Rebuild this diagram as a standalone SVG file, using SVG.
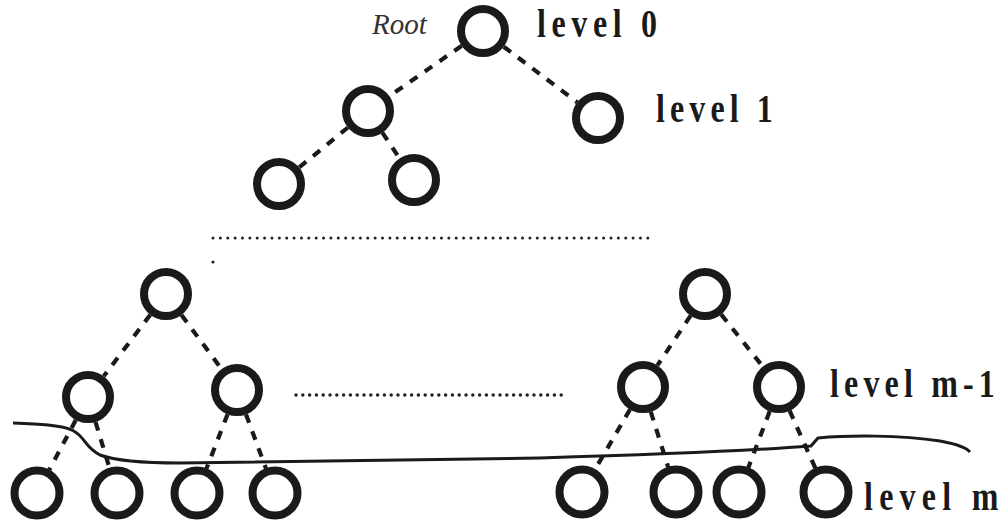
<svg xmlns="http://www.w3.org/2000/svg" width="1000" height="525" viewBox="0 0 1000 525">
  <style>
    .node { fill: none; stroke: #1a1a1a; stroke-width: 8; }
    .edge { stroke: #1a1a1a; stroke-width: 4.2; stroke-dasharray: 9 9; fill: none; }
    .dots { stroke: #222; stroke-linecap: round; fill: none; }
    .lvl { font-family: "Liberation Serif", "Times New Roman", serif; font-weight: bold; font-size: 40px; fill: #1a1a1a; }
    .root { font-family: "Liberation Serif", "Times New Roman", serif; font-style: italic; font-size: 29px; fill: #333; }
  </style>
  <rect width="1000" height="525" fill="#fff"/>

  <!-- tree edges -->
  <g id="connectors">
    <line class="edge" x1="461.7" y1="45.8" x2="389.3" y2="96.2"/>
    <line class="edge" x1="503.7" y1="46.7" x2="577.3" y2="102.3"/>
    <line class="edge" x1="347.9" y1="127.5" x2="299.1" y2="167.5"/>
    <line class="edge" x1="382.4" y1="132.6" x2="399.6" y2="158.4"/>
    <line class="edge" x1="150.3" y1="314.7" x2="103.7" y2="376.3"/>
    <line class="edge" x1="181.5" y1="314.9" x2="221.5" y2="369.1"/>
    <line class="edge" x1="690.6" y1="315.6" x2="657.4" y2="365.4"/>
    <line class="edge" x1="721.2" y1="314.4" x2="762.8" y2="366.6"/>
    <line class="edge" x1="75.8" y1="420" x2="49.2" y2="470"/>
    <line class="edge" x1="95.5" y1="421.9" x2="109.5" y2="468.1"/>
    <line class="edge" x1="227.6" y1="414.2" x2="206.4" y2="468.8"/>
    <line class="edge" x1="246" y1="414.4" x2="266" y2="468.6"/>
    <line class="edge" x1="630" y1="409.5" x2="595" y2="469.5"/>
    <line class="edge" x1="650.8" y1="411.8" x2="668.2" y2="467.2"/>
    <line class="edge" x1="769.7" y1="411.3" x2="748.3" y2="467.7"/>
    <line class="edge" x1="789.6" y1="410.7" x2="815.4" y2="468.3"/>
  </g>

  <!-- elided levels -->
  <line class="dots" x1="213" y1="238" x2="655" y2="238" stroke-width="3" stroke-dasharray="0 7.37"/>
  <circle cx="213" cy="262" r="1.6" fill="#222"/>
  <line class="dots" x1="296" y1="395" x2="568" y2="395" stroke-width="3.5" stroke-dasharray="0 6.8"/>

  <!-- cut line above the leaves -->
  <path d="M13,423 C40,424 60,425 72,430 C86,437 84,447 100,455 C116,461 140,463 180,463 L540,458 C640,455 760,450 811,446 L818,438 C850,435 900,435 940,441 C956,444 966,447 970,452" fill="none" stroke="#1a1a1a" stroke-width="3"/>

  <!-- level 0 -->
  <g id="n-root"><circle class="node" cx="483" cy="31" r="22"/></g>
  <!-- level 1 -->
  <g id="n-1a"><circle class="node" cx="368" cy="111" r="22"/></g>
  <g id="n-1b"><circle class="node" cx="598" cy="118" r="22"/></g>
  <!-- level 2 -->
  <g id="n-2a"><circle class="node" cx="279" cy="184" r="22"/></g>
  <g id="n-2b"><circle class="node" cx="414" cy="180" r="22"/></g>
  <!-- level m-2 -->
  <g id="n-m2a"><circle class="node" cx="166" cy="294" r="22"/></g>
  <g id="n-m2b"><circle class="node" cx="705" cy="294" r="22"/></g>
  <!-- level m-1 -->
  <g id="n-m1a"><circle class="node" cx="88" cy="397" r="22"/></g>
  <g id="n-m1b"><circle class="node" cx="237" cy="390" r="22"/></g>
  <g id="n-m1c"><circle class="node" cx="643" cy="387" r="22"/></g>
  <g id="n-m1d"><circle class="node" cx="779" cy="387" r="22"/></g>
  <!-- level m -->
  <g id="n-ma"><circle class="node" cx="37" cy="493" r="22.5"/></g>
  <g id="n-mb"><circle class="node" cx="117" cy="493" r="22.5"/></g>
  <g id="n-mc"><circle class="node" cx="197" cy="493" r="22.5"/></g>
  <g id="n-md"><circle class="node" cx="275" cy="493" r="22.5"/></g>
  <g id="n-me"><circle class="node" cx="582" cy="492" r="22.5"/></g>
  <g id="n-mf"><circle class="node" cx="676" cy="492" r="22.5"/></g>
  <g id="n-mg"><circle class="node" cx="739" cy="492" r="22.5"/></g>
  <g id="n-mh"><circle class="node" cx="826" cy="492" r="22.5"/></g>

  <!-- labels: condensed bold type with open tracking -->
  <text class="root" x="372" y="34">Root</text>
  <text class="lvl" transform="translate(537,37) scale(0.8,1)" textLength="150" lengthAdjust="spacing">level 0</text>
  <text class="lvl" transform="translate(656,122) scale(0.8,1)" textLength="146" lengthAdjust="spacing">level 1</text>
  <text class="lvl" transform="translate(830,397) scale(0.8,1)" textLength="206" lengthAdjust="spacing">level m-1</text>
  <text class="lvl" transform="translate(864,510) scale(0.8,1)" textLength="168" lengthAdjust="spacing">level m</text>
</svg>
